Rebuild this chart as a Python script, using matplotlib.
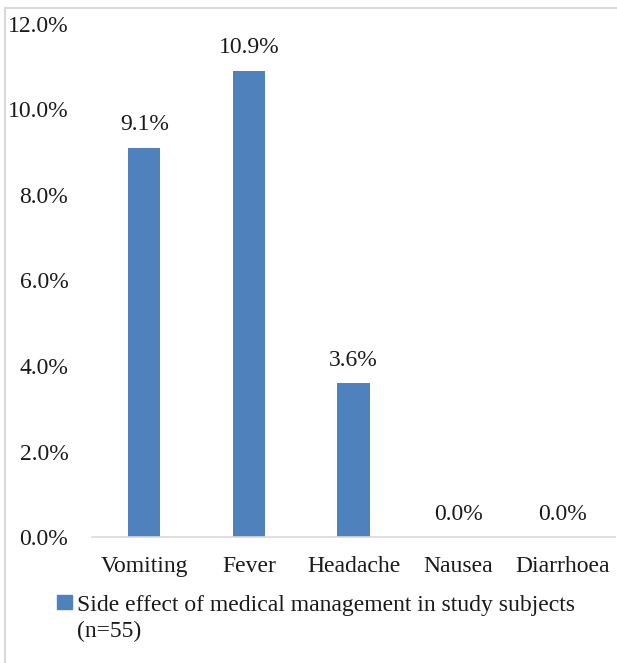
from matplotlib import pyplot as plt
from matplotlib.lines import Line2D
from matplotlib.patches import Patch
import numpy as np

plt.rcParams['font.family'] = ['Liberation Serif', 'DejaVu Serif']

categories = ['Vomiting', 'Fever', 'Headache', 'Nausea', 'Diarrhoea']
values = [9.1, 10.9, 3.6, 0.0, 0.0]
yticks = [0, 2, 4, 6, 8, 10, 12]
series_name = 'Side effect of medical management in study subjects'
series_note = '(n=55)'

bar_color = '#4F81BD'
fs = 17

fig = plt.figure(figsize=(6.17, 6.63), dpi=100)
ax = fig.add_axes([0.149, 0.190, 0.848, 0.774])

x = np.arange(len(categories))
bars = ax.bar(x, values, width=0.31, color=bar_color)

# value labels above bars
for xi, v in zip(x, values):
    ax.annotate(f'{v:.1f}%', (xi, v), xytext=(0, 9), textcoords='offset points',
                ha='center', va='bottom', fontsize=fs, color='#1a1a1a')

ax.set_xlim(-0.5, len(categories) - 0.5)
ax.set_ylim(0, 12)
ax.set_yticks(yticks)
ax.set_yticklabels([f'{t:.1f}%' for t in yticks])
ax.set_xticks(x)
ax.set_xticklabels(categories)
ax.tick_params(axis='y', length=0, pad=17, labelsize=fs, labelcolor='#1a1a1a')
ax.tick_params(axis='x', length=0, pad=14, labelsize=fs, labelcolor='#1a1a1a')

for s in ['top', 'right', 'left']:
    ax.spines[s].set_visible(False)
ax.spines['bottom'].set_color('#d9d9d9')
ax.spines['bottom'].set_linewidth(1.2)

# legend (first line), second line placed under it
leg = fig.legend(handles=[Patch(color=bar_color, label=series_name)],
                 loc='upper left', bbox_to_anchor=(0.093, 0.103),
                 frameon=False, fontsize=fs, handlelength=0.6, handleheight=0.55,
                 handletextpad=0.22, borderaxespad=0, borderpad=0)
for t in leg.get_texts():
    t.set_color('#1a1a1a')
fig.canvas.draw()
tb = leg.get_texts()[0].get_window_extent().transformed(fig.transFigure.inverted())
fig.text(tb.x0, tb.y0 - 0.008, series_note, fontsize=fs, color='#1a1a1a',
         ha='left', va='top')

# outer chart border (top and left visible)
fig.add_artist(Line2D([0.008, 1.0], [0.988, 0.988], transform=fig.transFigure,
                      color='#d9d9d9', lw=1.5))
fig.add_artist(Line2D([0.008, 0.008], [0.0, 0.988], transform=fig.transFigure,
                      color='#d9d9d9', lw=1.5))

fig.savefig('out.png', dpi=100)
